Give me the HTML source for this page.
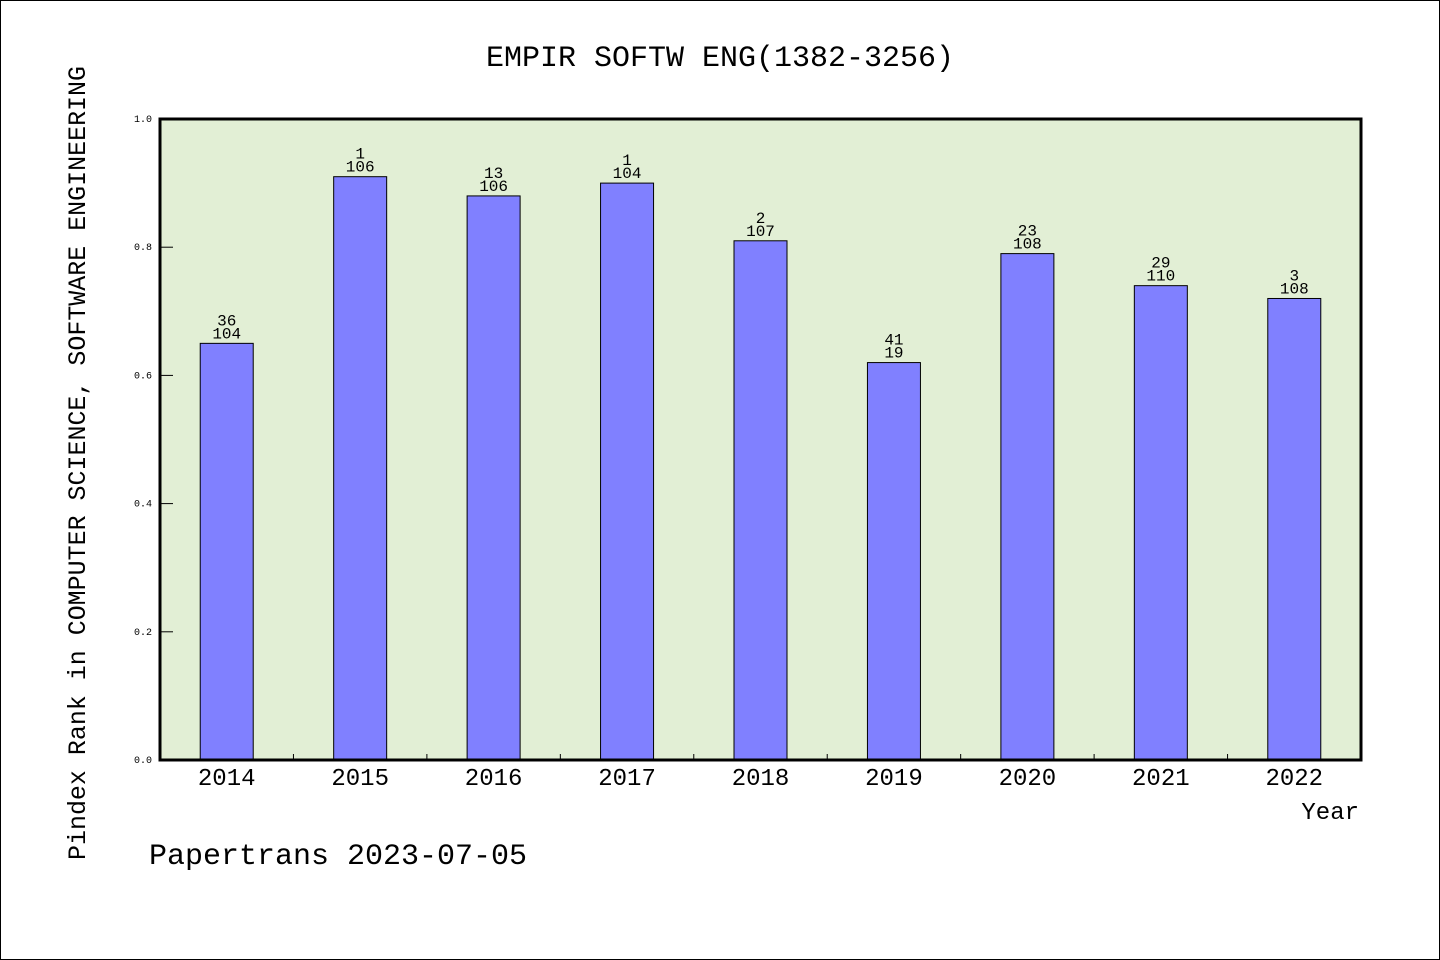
<!DOCTYPE html>
<html><head><meta charset="utf-8"><style>
body{margin:0;background:#fff}
svg{display:block}
text{font-family:"WenQuanYi Zen Hei","Liberation Mono",monospace;fill:#000}
</style></head><body>
<svg id="chart" width="1440" height="960" viewBox="0 0 1440 960">
<rect x="0.5" y="0.5" width="1439" height="959" fill="#fff" stroke="#000"/>
<text x="720" y="66" font-size="30" text-anchor="middle">EMPIR SOFTW ENG(1382-3256)</text>
<rect x="160" y="119" width="1201" height="641" fill="#e2efd5"/>
<g id="bars"></g>
<rect x="160" y="119" width="1201" height="641" fill="none" stroke="#000" stroke-width="3"/>
<g id="axes"></g>
<text transform="translate(85,463) rotate(-90)" font-size="25" textLength="794" lengthAdjust="spacingAndGlyphs" text-anchor="middle">Pindex Rank in COMPUTER SCIENCE, SOFTWARE ENGINEERING</text>
<text x="1359" y="819" font-size="24" text-anchor="end">Year</text>
<text x="149" y="864" font-size="30">Papertrans 2023-07-05</text>
</svg>
<script>
const categories=["2014","2015","2016","2017","2018","2019","2020","2021","2022"];
const values=[0.65,0.91,0.88,0.90,0.81,0.62,0.79,0.74,0.72];
const topLabels=["36","1","13","1","2","41","23","29","3"];
const bottomLabels=["104","106","106","104","107","19","108","110","108"];
const yTicks=[0,0.2,0.4,0.6,0.8,1.0];
const NS="http://www.w3.org/2000/svg";
const X0=160,X1=1361,Y0=760,Y1=119;
const band=(X1-X0)/categories.length;
const xc=i=>X0+band*(i+0.5);
const y=v=>Y0-(v)*(Y0-Y1);
function mk(tag,attrs,parent){const e=document.createElementNS(NS,tag);for(const k in attrs)e.setAttribute(k,attrs[k]);parent.appendChild(e);return e;}
const bars=document.getElementById('bars'),axes=document.getElementById('axes');
categories.forEach((c,i)=>{
 const r=mk('rect',{x:xc(i)-26.5,y:y(values[i]),width:53,height:Y0-y(values[i]),fill:'#8080ff',stroke:'#000','stroke-width':1},bars);
 
 
 const t1=mk('text',{x:xc(i),y:y(values[i])-18,'font-size':16,'text-anchor':'middle'},bars);t1.textContent=topLabels[i];
 
 
 const t2=mk('text',{x:xc(i),y:y(values[i])-5,'font-size':16,'text-anchor':'middle'},bars);t2.textContent=bottomLabels[i];
 
 
 const xl=mk('text',{x:xc(i),y:785,'font-size':24,'text-anchor':'middle'},axes);xl.textContent=c;
 
 
 if(i>0){const tk=mk('line',{x1:X0+band*i,x2:X0+band*i,y1:Y0,y2:Y0-6,stroke:'#000','stroke-width':1},axes);
 
 }
});
yTicks.forEach(v=>{
 const tk=mk('line',{x1:X0,x2:X0+13,y1:y(v),y2:y(v),stroke:'#000','stroke-width':1},axes);
 
 
 const tl=mk('text',{x:152,y:y(v)+3,'font-size':10,'text-anchor':'end'},axes);tl.textContent=v.toFixed(1);
 
 
});
</script>
</body></html>
